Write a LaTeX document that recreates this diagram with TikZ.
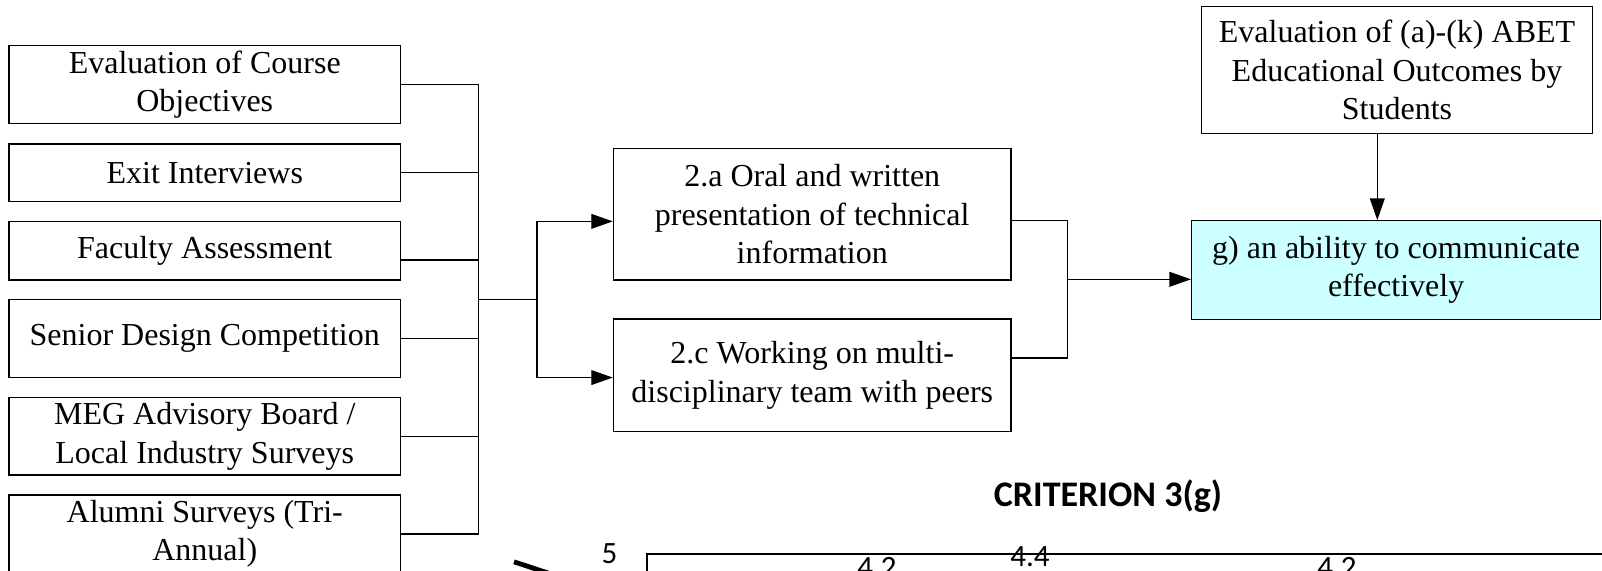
\documentclass[tikz,border=0pt]{standalone}
\usepackage{fontspec}
\setmainfont{Liberation Serif}
\newfontfamily\chartfont{Carlito}
\usetikzlibrary{arrows.meta}
\definecolor{cyanfill}{RGB}{204,255,255}
\begin{document}
\begin{tikzpicture}[x=0.5pt,y=-0.5pt,
  box/.style={draw=black, line width=0.65pt, rectangle, inner sep=0pt, align=center,
    font=\fontsize{16}{19.25}\selectfont},
  conn/.style={draw=black, line width=0.6pt},
  arr/.style={conn, -{Triangle[length=10.8pt,width=7.4pt]}},
  charttxt/.style={inner sep=0pt, anchor=base, font=\chartfont\fontsize{15.5}{18}\selectfont},
  charttitle/.style={inner sep=0pt, anchor=base, font=\chartfont\bfseries\fontsize{18}{21}\selectfont},
  chartline/.style={draw=black, line width=1pt}
]
\useasboundingbox (0,0) rectangle (1602,570);
\clip (0,0) rectangle (1602,570);

% left source boxes
\node[box, minimum width=195.75pt, minimum height=38.8pt] (b1) at (204.75,84.5) {Evaluation of Course\\Objectives};
\node[box, minimum width=195.75pt, minimum height=28.85pt] (b2) at (204.75,172.85) {Exit Interviews};
\node[box, minimum width=195.75pt, minimum height=29.15pt] (b3) at (204.75,250.85) {Faculty Assessment};
\node[box, minimum width=195.75pt, minimum height=39.2pt] (b4) at (204.75,338.5) {Senior Design Competition};
\node[box, minimum width=195.75pt, minimum height=38.85pt] (b5) at (204.75,436.15) {MEG Advisory Board /\\Local Industry Surveys};
\node[box, minimum width=195.75pt, minimum height=39pt] (b6) at (204.75,534) {Alumni Surveys (Tri-\\Annual)};

% middle boxes
\node[box, minimum width=198.75pt, minimum height=65.85pt] (a2) at (812.25,214.15) {2.a Oral and written\\presentation of technical\\information};
\node[box, minimum width=198.75pt, minimum height=56.15pt] (c2) at (812.25,375.15) {2.c Working on multi-\\disciplinary team with peers};

% right boxes
\node[box, minimum width=195.7pt, minimum height=63.3pt] (top) at (1397,70) {Evaluation of (a)-(k) ABET\\Educational Outcomes by\\Students};
\node[box, fill=cyanfill, minimum width=204.4pt, minimum height=49.3pt] (g) at (1396.1,270) {g) an ability to communicate\\effectively};

% junction coordinates
\coordinate (j1) at (478.7,299.3);
\coordinate (j2) at (537,299.3);
\coordinate (j3) at (1067.3,279.3);
\coordinate (e3) at ([yshift=-4.6pt]b3.east);
\coordinate (a2in) at ([yshift=-3.6pt]a2.west);
\coordinate (c2in) at ([yshift=-1.2pt]c2.west);
\coordinate (a2out) at ([yshift=-3.3pt]a2.east);
\coordinate (c2out) at ([yshift=8.6pt]c2.east);
\coordinate (tops) at ([xshift=-9.85pt]top.south);

% left bus
\draw[conn] (b1.east) -- (b1.east -| j1);
\draw[conn] (b2.east) -- (b2.east -| j1);
\draw[conn] (e3) -- (e3 -| j1);
\draw[conn] (b4.east) -- (b4.east -| j1);
\draw[conn] (b5.east) -- (b5.east -| j1);
\draw[conn] (b6.east) -- (b6.east -| j1);
\draw[conn] (b1.east -| j1) -- (b6.east -| j1);
\draw[conn] (j1) -- (j2);
\draw[conn] (j2 |- a2in) -- (j2 |- c2in);
\draw[arr] (j2 |- a2in) -- (a2in);
\draw[arr] (j2 |- c2in) -- (c2in);

% right bus
\draw[conn] (a2out) -- (a2out -| j3) -- (c2out -| j3) -- (c2out);
\draw[arr] (j3) -- (j3 -| g.west);
\draw[arr] (tops) -- (tops |- g.north);

% chart fragment
\node[charttitle] (ttl) at (1108,506.7) {CRITERION 3(g)};
\node[charttxt] (y5) at (609.5,563.3) {5};
\node[charttxt] (v1) at (877,577.5) {4.2};
\node[charttxt] (v2) at (1030,566.2) {4.4};
\node[charttxt] (v3) at (1337,577.5) {4.2};
\draw[chartline] (647,600) -- (647,554.3) -- (1700,554.3);
\draw[line width=2.4pt] (514,561.8) -- (548,573);
\end{tikzpicture}
\end{document}
